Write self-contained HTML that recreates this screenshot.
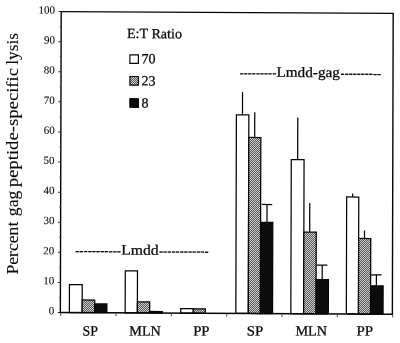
<!DOCTYPE html>
<html><head><meta charset="utf-8"><title>chart</title>
<style>
html,body{margin:0;padding:0;background:#fff;}
body{width:400px;height:343px;overflow:hidden;}
svg{display:block;}
text{font-family:"Liberation Serif","DejaVu Serif",serif;fill:#0a0a0a;stroke:#0a0a0a;stroke-width:0.28px;}
</style></head><body>
<svg width="400" height="343" viewBox="0 0 400 343">
<defs>
<pattern id="ht" width="2" height="2" patternUnits="userSpaceOnUse" patternTransform="matrix(0.999985 -0.005200 0.002800 0.999985 -0.031028 0.318401)">
<rect width="2" height="2" fill="#585858"/>
<rect x="0" y="0" width="1" height="1" fill="#cecece"/>
<rect x="1" y="1" width="1" height="1" fill="#cecece"/>
</pattern>
</defs>
<rect width="400" height="343" fill="#fff"/>

<g transform="matrix(1 0.0052 -0.0028 1 0.0319 -0.3182)">
<rect x="70.21" y="284.52" width="12.80" height="27.98" fill="#fff" stroke="#050505" stroke-width="1.25"/>
<rect x="83.01" y="299.86" width="12.50" height="12.64" fill="url(#ht)" stroke="#050505" stroke-width="1.25"/>
<rect x="95.51" y="303.74" width="12.20" height="8.76" fill="#0c0c0c" stroke="#050505" stroke-width="1.25"/>
<rect x="126.01" y="270.54" width="12.20" height="41.96" fill="#fff" stroke="#050505" stroke-width="1.25"/>
<rect x="138.21" y="301.47" width="12.30" height="11.03" fill="url(#ht)" stroke="#050505" stroke-width="1.25"/>
<rect x="150.51" y="311.01" width="12.60" height="1.49" fill="#0c0c0c" stroke="#050505" stroke-width="1.25"/>
<rect x="181.58" y="308.05" width="12.55" height="4.45" fill="#fff" stroke="#050505" stroke-width="1.25"/>
<rect x="194.13" y="308.08" width="12.00" height="4.42" fill="url(#ht)" stroke="#050505" stroke-width="1.25"/>
<line x1="242.76" y1="91.11" x2="242.76" y2="114.01" stroke="#050505" stroke-width="1.25"/>
<rect x="236.68" y="114.01" width="12.45" height="198.49" fill="#fff" stroke="#050505" stroke-width="1.25"/>
<line x1="255.02" y1="111.29" x2="255.02" y2="136.50" stroke="#050505" stroke-width="1.25"/>
<rect x="249.13" y="136.50" width="12.05" height="176.00" fill="url(#ht)" stroke="#050505" stroke-width="1.25"/>
<line x1="267.57" y1="203.43" x2="267.57" y2="221.38" stroke="#050505" stroke-width="1.25"/>
<line x1="262.37" y1="203.43" x2="272.77" y2="203.43" stroke="#050505" stroke-width="1.25"/>
<rect x="261.18" y="221.38" width="12.20" height="91.12" fill="#0c0c0c" stroke="#050505" stroke-width="1.25"/>
<line x1="298.06" y1="116.27" x2="298.06" y2="158.42" stroke="#050505" stroke-width="1.25"/>
<rect x="291.68" y="158.42" width="12.80" height="154.08" fill="#fff" stroke="#050505" stroke-width="1.25"/>
<line x1="310.28" y1="201.71" x2="310.28" y2="230.91" stroke="#050505" stroke-width="1.25"/>
<rect x="304.48" y="230.91" width="12.40" height="81.59" fill="url(#ht)" stroke="#050505" stroke-width="1.25"/>
<line x1="322.93" y1="263.79" x2="322.93" y2="278.34" stroke="#050505" stroke-width="1.25"/>
<line x1="317.73" y1="263.79" x2="328.13" y2="263.79" stroke="#050505" stroke-width="1.25"/>
<rect x="316.88" y="278.34" width="12.30" height="34.16" fill="#0c0c0c" stroke="#050505" stroke-width="1.25"/>
<line x1="353.21" y1="191.88" x2="353.21" y2="195.49" stroke="#050505" stroke-width="1.25"/>
<rect x="347.18" y="195.49" width="12.10" height="117.01" fill="#fff" stroke="#050505" stroke-width="1.25"/>
<line x1="365.12" y1="229.02" x2="365.12" y2="236.92" stroke="#050505" stroke-width="1.25"/>
<rect x="359.28" y="236.92" width="12.10" height="75.58" fill="url(#ht)" stroke="#050505" stroke-width="1.25"/>
<line x1="377.15" y1="273.21" x2="377.15" y2="284.26" stroke="#050505" stroke-width="1.25"/>
<line x1="371.95" y1="273.21" x2="382.35" y2="273.21" stroke="#050505" stroke-width="1.25"/>
<rect x="371.38" y="284.26" width="12.50" height="28.24" fill="#0c0c0c" stroke="#050505" stroke-width="1.25"/>
<rect x="61.2" y="11.6" width="332.00" height="300.90" fill="none" stroke="#050505" stroke-width="1.4"/>
<line x1="61.50" y1="312.5" x2="61.50" y2="315.8" stroke="#3a3a3a" stroke-width="0.9"/>
<line x1="116.83" y1="312.5" x2="116.83" y2="315.8" stroke="#3a3a3a" stroke-width="0.9"/>
<line x1="172.17" y1="312.5" x2="172.17" y2="315.8" stroke="#3a3a3a" stroke-width="0.9"/>
<line x1="227.50" y1="312.5" x2="227.50" y2="315.8" stroke="#3a3a3a" stroke-width="0.9"/>
<line x1="282.83" y1="312.5" x2="282.83" y2="315.8" stroke="#3a3a3a" stroke-width="0.9"/>
<line x1="338.17" y1="312.5" x2="338.17" y2="315.8" stroke="#3a3a3a" stroke-width="0.9"/>
<line x1="393.50" y1="312.5" x2="393.50" y2="315.8" stroke="#3a3a3a" stroke-width="0.9"/>
<line x1="58.60" y1="312.50" x2="61.2" y2="312.50" stroke="#222" stroke-width="1"/>
<text x="55.0" y="314.40" font-size="11" text-anchor="end" style="stroke-width:0.1px">0</text>
<line x1="59.60" y1="297.45" x2="61.2" y2="297.45" stroke="#555" stroke-width="0.8"/>
<line x1="58.60" y1="282.41" x2="61.2" y2="282.41" stroke="#222" stroke-width="1"/>
<text x="55.0" y="284.31" font-size="11" text-anchor="end" style="stroke-width:0.1px">10</text>
<line x1="59.60" y1="267.37" x2="61.2" y2="267.37" stroke="#555" stroke-width="0.8"/>
<line x1="58.60" y1="252.32" x2="61.2" y2="252.32" stroke="#222" stroke-width="1"/>
<text x="55.0" y="254.22" font-size="11" text-anchor="end" style="stroke-width:0.1px">20</text>
<line x1="59.60" y1="237.28" x2="61.2" y2="237.28" stroke="#555" stroke-width="0.8"/>
<line x1="58.60" y1="222.23" x2="61.2" y2="222.23" stroke="#222" stroke-width="1"/>
<text x="55.0" y="224.13" font-size="11" text-anchor="end" style="stroke-width:0.1px">30</text>
<line x1="59.60" y1="207.19" x2="61.2" y2="207.19" stroke="#555" stroke-width="0.8"/>
<line x1="58.60" y1="192.14" x2="61.2" y2="192.14" stroke="#222" stroke-width="1"/>
<text x="55.0" y="194.04" font-size="11" text-anchor="end" style="stroke-width:0.1px">40</text>
<line x1="59.60" y1="177.09" x2="61.2" y2="177.09" stroke="#555" stroke-width="0.8"/>
<line x1="58.60" y1="162.05" x2="61.2" y2="162.05" stroke="#222" stroke-width="1"/>
<text x="55.0" y="163.95" font-size="11" text-anchor="end" style="stroke-width:0.1px">50</text>
<line x1="59.60" y1="147.00" x2="61.2" y2="147.00" stroke="#555" stroke-width="0.8"/>
<line x1="58.60" y1="131.96" x2="61.2" y2="131.96" stroke="#222" stroke-width="1"/>
<text x="55.0" y="133.86" font-size="11" text-anchor="end" style="stroke-width:0.1px">60</text>
<line x1="59.60" y1="116.92" x2="61.2" y2="116.92" stroke="#555" stroke-width="0.8"/>
<line x1="58.60" y1="101.87" x2="61.2" y2="101.87" stroke="#222" stroke-width="1"/>
<text x="55.0" y="103.77" font-size="11" text-anchor="end" style="stroke-width:0.1px">70</text>
<line x1="59.60" y1="86.83" x2="61.2" y2="86.83" stroke="#555" stroke-width="0.8"/>
<line x1="58.60" y1="71.78" x2="61.2" y2="71.78" stroke="#222" stroke-width="1"/>
<text x="55.0" y="73.68" font-size="11" text-anchor="end" style="stroke-width:0.1px">80</text>
<line x1="59.60" y1="56.74" x2="61.2" y2="56.74" stroke="#555" stroke-width="0.8"/>
<line x1="58.60" y1="41.69" x2="61.2" y2="41.69" stroke="#222" stroke-width="1"/>
<text x="55.0" y="43.59" font-size="11" text-anchor="end" style="stroke-width:0.1px">90</text>
<line x1="59.60" y1="26.64" x2="61.2" y2="26.64" stroke="#555" stroke-width="0.8"/>
<line x1="58.60" y1="11.60" x2="61.2" y2="11.60" stroke="#222" stroke-width="1"/>
<text x="55.0" y="13.50" font-size="11" text-anchor="end" style="stroke-width:0.1px">100</text>
<text x="83.41" y="335.39" font-size="14.2" textLength="15.3" lengthAdjust="spacingAndGlyphs">SP</text>
<text x="130.21" y="335.15" font-size="14.2" textLength="31.5" lengthAdjust="spacingAndGlyphs">MLN</text>
<text x="194.11" y="334.81" font-size="14.2" textLength="16.3" lengthAdjust="spacingAndGlyphs">PP</text>
<text x="247.71" y="334.53" font-size="14.2" textLength="16.4" lengthAdjust="spacingAndGlyphs">SP</text>
<text x="296.41" y="334.28" font-size="14.2" textLength="31.5" lengthAdjust="spacingAndGlyphs">MLN</text>
<text x="357.31" y="333.96" font-size="14.2" textLength="16.6" lengthAdjust="spacingAndGlyphs">PP</text>
<text x="127.07" y="37.66" font-size="14" textLength="55" lengthAdjust="spacingAndGlyphs">E:T Ratio</text>
<rect x="130.02" y="54.44" width="8.5" height="8.6" fill="#fff" stroke="#050505" stroke-width="1.15"/>
<text x="141.75" y="62.88" font-size="14">70</text>
<rect x="130.08" y="76.14" width="8.5" height="8.6" fill="url(#ht)" stroke="#050505" stroke-width="1.15"/>
<text x="141.81" y="84.93" font-size="14">23</text>
<rect x="130.14" y="98.34" width="8.5" height="8.6" fill="#0c0c0c" stroke="#050505" stroke-width="1.15"/>
<text x="141.87" y="107.18" font-size="14">8</text>
<text font-size="14.3"><tspan x="75.88" y="254.89" textLength="45.8" lengthAdjust="spacingAndGlyphs" style="stroke-width:0.1px">-----------</tspan><tspan x="121.88" y="254.29" textLength="37.4" lengthAdjust="spacingAndGlyphs">Lmdd</tspan><tspan x="159.68" y="254.89" textLength="49.6" lengthAdjust="spacingAndGlyphs" style="stroke-width:0.1px">------------</tspan></text>
<text font-size="14.3"><tspan x="239.88" y="76.28" textLength="36.5" lengthAdjust="spacingAndGlyphs" style="stroke-width:0.1px">---------</tspan><tspan x="276.68" y="75.68" textLength="63.4" lengthAdjust="spacingAndGlyphs">Lmdd-gag</tspan><tspan x="340.78" y="76.28" textLength="40.4" lengthAdjust="spacingAndGlyphs" style="stroke-width:0.1px">----------</tspan></text>
</g>
<text transform="translate(17.80,274.60) rotate(-90)" font-size="17.7" style="stroke-width:0.1px"><tspan x="0" textLength="52.9" lengthAdjust="spacingAndGlyphs">Percent</tspan> <tspan x="58.4" textLength="25.6" lengthAdjust="spacingAndGlyphs">gag</tspan> <tspan x="87.3" textLength="119.4" lengthAdjust="spacingAndGlyphs">peptide-specific</tspan> <tspan x="209.8" textLength="31.8" lengthAdjust="spacingAndGlyphs">lysis</tspan></text>
</svg></body></html>
